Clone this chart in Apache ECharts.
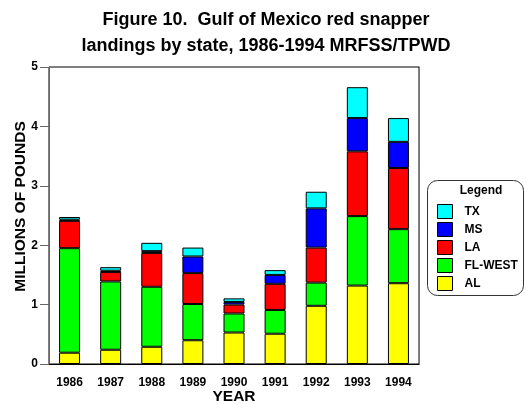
<!DOCTYPE html>
<html><head><meta charset="utf-8">
<script src="https://cdn.jsdelivr.net/npm/echarts@6/dist/echarts.min.js"></script>
<style>html,body{margin:0;padding:0;background:#fff}#c{width:526px;height:404px}</style>
</head><body><div id="c"></div>
<script>
const years = ['1986','1987','1988','1989','1990','1991','1992','1993','1994'];
const AL     = [0.19, 0.24, 0.29, 0.40, 0.53, 0.51, 0.98, 1.32, 1.36];
const FLWEST = [1.76, 1.15, 1.01, 0.61, 0.32, 0.40, 0.39, 1.17, 0.91];
const LA     = [0.46, 0.16, 0.57, 0.52, 0.15, 0.44, 0.59, 1.09, 1.03];
const MS     = [0.02, 0.02, 0.03, 0.28, 0.045, 0.15, 0.66, 0.56, 0.44];
const TX     = [0.045, 0.06, 0.14, 0.15, 0.06, 0.08, 0.28, 0.52, 0.40];
const yTicks = [0, 1, 2, 3, 4, 5];

const F = 'Liberation Sans, Arial, sans-serif';
const mk = (name, data, color) => ({
  name, type: 'bar', stack: 'all', data, barWidth: 21,
  itemStyle: { color, borderColor: '#000', borderWidth: 1 },
  emphasis: { disabled: true }
});
const chart = echarts.init(document.getElementById('c'), null, { renderer: 'canvas' });
chart.setOption({
  animation: false,
  backgroundColor: '#fff',
  title: {
    text: 'Figure 10.  Gulf of Mexico red snapper\nlandings by state, 1986-1994 MRFSS/TPWD',
    left: 266, top: 7, padding: 0, textAlign: 'center',
    textStyle: { fontFamily: F, fontWeight: 'bold', fontSize: 18, lineHeight: 26, color: '#000' }
  },
  grid: { left: 49, right: 107, top: 67, bottom: 40, show: true, borderColor: '#000', borderWidth: 1,
    containLabel: false, outerBoundsMode: 'none' },
  xAxis: {
    type: 'category', data: years,
    name: 'YEAR', nameLocation: 'middle', nameGap: 25, nameMoveOverlap: false,
    nameTextStyle: { fontFamily: F, fontWeight: 'bold', fontSize: 15.5, color: '#000' },
    axisLine: { lineStyle: { color: '#000', width: 1 } },
    axisTick: { alignWithLabel: true, length: 3, lineStyle: { color: '#000' } },
    axisLabel: { fontFamily: F, fontWeight: 'bold', fontSize: 12, color: '#000', margin: 13 }
  },
  yAxis: [{
    type: 'value', min: 0, max: 5, interval: 1,
    name: 'MILLIONS OF POUNDS', nameLocation: 'middle', nameGap: 20, nameMoveOverlap: false,
    nameTextStyle: { fontFamily: F, fontWeight: 'bold', fontSize: 15.5, color: '#000', padding: [0, 0, 0, 18] },
    axisLine: { show: true, lineStyle: { color: '#666', width: 1 } },
    axisTick: { show: true, length: 9, lineStyle: { color: '#666' } },
    axisLabel: { fontFamily: F, fontWeight: 'bold', fontSize: 12, color: '#000', margin: 11,
      formatter: v => yTicks.includes(v) ? String(v) : '' },
    splitLine: { show: false }
  }, {
    type: 'value', min: 0, max: 5, interval: 1, position: 'right',
    axisLine: { show: true, lineStyle: { color: '#777', width: 1 } },
    axisTick: { show: false }, axisLabel: { show: false }, splitLine: { show: false }
  }],
  legend: {
    data: ['TX', 'MS', 'LA', 'FL-WEST', 'AL'],
    orient: 'vertical', left: 437, top: 204, padding: 0, itemWidth: 15, itemHeight: 14, itemGap: 3,
    icon: 'rect', selectedMode: false,
    itemStyle: { borderColor: '#000', borderWidth: 1 },
    textStyle: { fontFamily: F, fontWeight: 'bold', fontSize: 12, color: '#000', padding: [0, 0, 0, 7] }
  },
  graphic: [
    { type: 'rect', shape: { x: 427.5, y: 180.5, width: 96, height: 115, r: 10 },
      style: { fill: 'none', stroke: '#333', lineWidth: 1 }, z: 100 },
    { type: 'text', x: 481, y: 191, style: { text: 'Legend', fontFamily: F, fontWeight: 'bold', fontSize: 12,
      fill: '#000', textAlign: 'center', textVerticalAlign: 'middle' }, z: 100 }
  ],
  series: [
    mk('AL', AL, '#ffff00'),
    mk('FL-WEST', FLWEST, '#00ff00'),
    mk('LA', LA, '#ff0000'),
    mk('MS', MS, '#0000ff'),
    mk('TX', TX, '#00ffff')
  ]
});
</script></body></html>
